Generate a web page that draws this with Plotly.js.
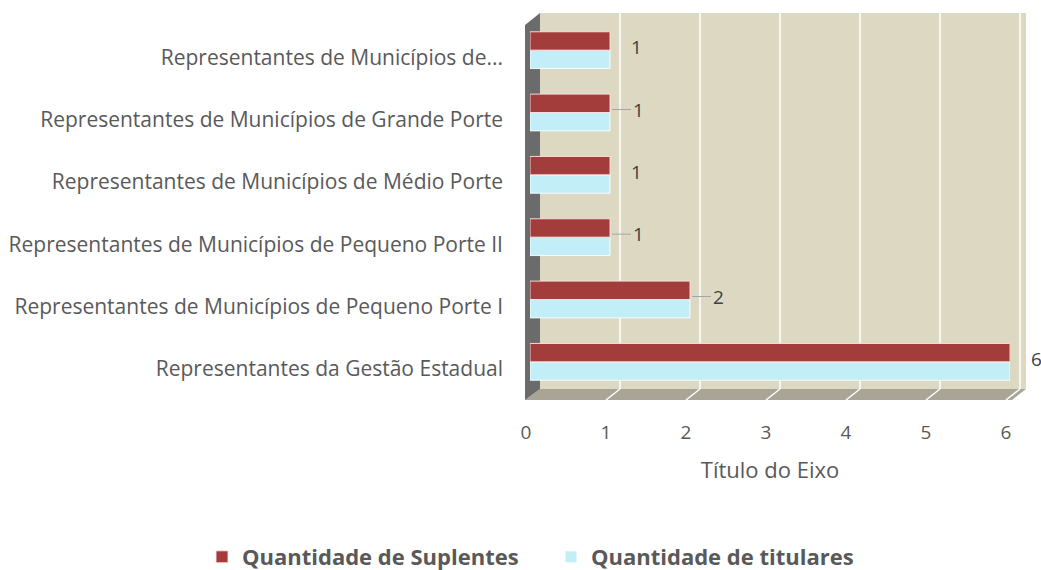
<!DOCTYPE html>
<html>
<head>
<meta charset="utf-8">
<script src="https://cdn.plot.ly/plotly-3.0.1.min.js"></script>
<style>html,body{margin:0;padding:0;background:#fff}#chart{width:1041px;height:570px}</style>
</head>
<body>
<div id="chart"></div>
<script>
// ---- data ----
const categories = [
  "Representantes da Gestão Estadual",
  "Representantes de Municípios de Pequeno Porte I",
  "Representantes de Municípios de Pequeno Porte II",
  "Representantes de Municípios de Médio Porte",
  "Representantes de Municípios de Grande Porte",
  "Representantes de Municípios de..."
];
const suplentes = [6, 2, 1, 1, 1, 1];
const titulares = [6, 2, 1, 1, 1, 1];
const labelLeader = [false, true, true, false, true, false];
const xTicks = [0, 1, 2, 3, 4, 5, 6];
const seriesNames = ["Quantidade de Suplentes", "Quantidade de titulares"];

// ---- geometry (pixels) ----
const W = 1041, H = 570;
const plotL = 530, plotR = 1010, plotT = 19, plotB = 393;
const pw = plotR - plotL, ph = plotB - plotT;
const px = p => (p - plotL) / pw;           // pixel x -> paper x
const py = p => (plotB - p) / ph;           // pixel y -> paper y
const xmin = 0, xmax = 6;
const depthX = 10;                           // 3D depth offset of back wall

const textColor = "#595959";
const font = "Open Sans, Liberation Sans, sans-serif";

// walls
const shapes = [];
// back wall
shapes.push({type: "rect", xref: "paper", yref: "paper", layer: "below",
  x0: px(plotL + depthX), x1: px(plotR + depthX + 6), y0: py(389), y1: py(13),
  fillcolor: "#DDD8C2", line: {width: 0}});
// floor
shapes.push({type: "path", xref: "paper", yref: "paper", layer: "below",
  path: `M ${px(plotL - 5)} ${py(400)} L ${px(plotR + 2)} ${py(400)} L ${px(plotR + depthX + 6)} ${py(389)} L ${px(plotL + depthX)} ${py(389)} Z`,
  fillcolor: "#A8A597", line: {width: 0}});
// left side wall
shapes.push({type: "path", xref: "paper", yref: "paper", layer: "below",
  path: `M ${px(plotL - 5)} ${py(25)} L ${px(plotL + depthX)} ${py(13)} L ${px(plotL + depthX)} ${py(389)} L ${px(plotL - 5)} ${py(400)} Z`,
  fillcolor: "#6B6B6B", line: {width: 0}});
// gridlines on back wall + floor
xTicks.forEach(v => {
  if (v === 0) return;
  const gx = plotL + (v - xmin) / (xmax - xmin) * pw + depthX;
  shapes.push({type: "line", xref: "paper", yref: "paper", layer: "below",
    x0: px(gx), x1: px(gx), y0: py(13), y1: py(389),
    line: {color: "#FFFFFF", width: 1.5}});
  shapes.push({type: "line", xref: "paper", yref: "paper", layer: "below",
    x0: px(gx), x1: px(gx - 14), y0: py(389), y1: py(400),
    line: {color: "#FFFFFF", width: 1.5}});
});

// data labels
const annotations = categories.map((c, i) => ({
  x: suplentes[i], y: c, xref: "x", yref: "y",
  text: String(suplentes[i]),
  showarrow: labelLeader[i], arrowhead: 0, arrowwidth: 1, arrowcolor: "#A6A6A6",
  ax: 28, ay: 0, standoff: 2,
  xshift: labelLeader[i] ? 0 : 26, yshift: 3,
  font: {family: font, size: 19, color: "#404040"}
}));

const traces = [
  {type: "bar", orientation: "h", name: seriesNames[1], y: categories, x: titulares,
   marker: {color: "#C2EEF8", line: {color: "rgba(255,255,255,0.9)", width: 1}},
   legendrank: 2, hoverinfo: "x+name"},
  {type: "bar", orientation: "h", name: seriesNames[0], y: categories, x: suplentes,
   marker: {color: "#A23D3C", line: {color: "rgba(255,230,230,0.9)", width: 1}},
   legendrank: 1, hoverinfo: "x+name"}
];

const layout = {
  width: W, height: H,
  margin: {l: plotL, r: W - plotR, t: plotT, b: H - plotB, pad: 0, autoexpand: false},
  paper_bgcolor: "#FFFFFF", plot_bgcolor: "rgba(0,0,0,0)",
  barmode: "group", bargap: 0.41, bargroupgap: 0,
  font: {family: font, color: textColor},
  showlegend: true,
  legend: {orientation: "h", x: px(202), xanchor: "left", y: py(557), yanchor: "middle",
    entrywidth: 304, entrywidthmode: "pixels",
    font: {family: font, size: 22, color: textColor, weight: "bold"},
    traceorder: "normal", bgcolor: "rgba(0,0,0,0)"},
  xaxis: {range: [xmin, xmax], tickvals: xTicks, ticktext: xTicks.map(String),
    showgrid: false, zeroline: false, showline: false, ticks: "",
    tickfont: {family: font, size: 19, color: textColor},
    ticklabelstandoff: 26, ticklabelshift: -4,
    title: {text: "Título do Eixo", font: {family: font, size: 22, color: textColor}, standoff: 18}},
  yaxis: {type: "category", range: [-0.5, 5.5],
    showgrid: false, zeroline: false, showline: false, ticks: "",
    tickfont: {family: font, size: 21, color: textColor},
    ticklabelstandoff: 26, ticklabelshift: 7},
  shapes: shapes,
  annotations: annotations
};

Plotly.newPlot("chart", traces, layout, {displayModeBar: false, staticPlot: true});
</script>
</body>
</html>
